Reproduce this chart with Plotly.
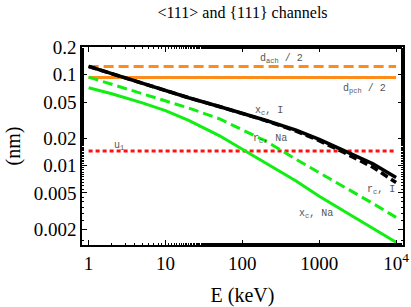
import plotly.graph_objects as go
import numpy as np

# ---- data ----
energy_keV = [1, 2, 5, 10, 20, 50, 100, 200, 500, 1000, 2000, 5000, 10000]
xc_I  = [0.1235, 0.1025, 0.080, 0.0659, 0.0558, 0.0447, 0.0377, 0.0315, 0.0246, 0.0194, 0.0149, 0.01045, 0.0074]
rc_I  = [0.1235, 0.1025, 0.080, 0.0659, 0.0558, 0.0447, 0.0377, 0.0313, 0.0240, 0.0188, 0.0142, 0.0096, 0.0065]
rc_Na = [0.094, 0.0788, 0.0622, 0.052, 0.0430, 0.0328, 0.0250, 0.0187, 0.0117, 0.0084, 0.00605, 0.00383, 0.00269]
xc_Na = [0.0719, 0.0618, 0.049, 0.0403, 0.0315, 0.0214, 0.0151, 0.0107, 0.00676, 0.0046, 0.00322, 0.00203, 0.00143]

const_E = [1, 10000]
d_ach_half = [0.1235, 0.1235]
d_pch_half = [0.0933, 0.0933]
u1 = [0.0145, 0.0145]

x_tickvals = [1, 10, 100, 1000, 10000]
x_ticktext = ["1", "10", "100", "1000", "10<sup>4</sup>"]
y_tickvals = [0.002, 0.005, 0.01, 0.02, 0.05, 0.1, 0.2]
y_ticktext = ["0.002", "0.005", "0.01", "0.02", "0.05", "0.1", "0.2"]

# labels: (text, logE, logy)
labels = [
    ("d<sub>ach</sub> / 2", 2.503, -0.831),
    ("d<sub>pch</sub> / 2", 3.592, -1.162),
    ("x<sub>c</sub>, I", 2.347, -1.394),
    ("r<sub>c</sub>, Na", 2.36, -1.702),
    ("u<sub>1</sub>", 0.40, -1.78),
    ("r<sub>c</sub>, I", 3.81, -2.265),
    ("x<sub>c</sub>, Na", 2.96, -2.529),
]

ORANGE = "#ff8c1a"
GREEN = "#11ee11"
RED = "#ff1010"
SERIF = "Liberation Serif, Times New Roman, serif"

fig = go.Figure()
fig.add_trace(go.Scatter(x=const_E, y=d_ach_half, mode="lines",
                         line=dict(color=ORANGE, width=3, dash="10px,5px")))
fig.add_trace(go.Scatter(x=const_E, y=d_pch_half, mode="lines",
                         line=dict(color=ORANGE, width=3)))
fig.add_trace(go.Scatter(x=const_E, y=u1, mode="lines",
                         line=dict(color=RED, width=3, dash="4px,3px")))
fig.add_trace(go.Scatter(x=energy_keV, y=rc_Na, mode="lines",
                         line=dict(color=GREEN, width=3, dash="10px,5px")))
fig.add_trace(go.Scatter(x=energy_keV, y=xc_Na, mode="lines",
                         line=dict(color=GREEN, width=3)))
fig.add_trace(go.Scatter(x=energy_keV, y=rc_I, mode="lines",
                         line=dict(color="black", width=3.5, dash="8px,4px")))
fig.add_trace(go.Scatter(x=energy_keV, y=xc_I, mode="lines",
                         line=dict(color="black", width=3.5)))

for txt, lx, ly in labels:
    fig.add_annotation(x=lx, y=ly, xref="x", yref="y", text=txt, showarrow=False,
                       font=dict(family="Liberation Mono, Courier New, monospace",
                                 size=10, color="#555555"))

axis_common = dict(type="log", showgrid=False, zeroline=False, showline=True,
                   linecolor="black", linewidth=1.5, mirror="ticks",
                   ticks="inside", ticklen=5, tickwidth=1, tickcolor="black",
                   automargin=False,
                   tickfont=dict(family=SERIF, size=19, color="black"),
                   minor=dict(ticks="inside", ticklen=2, tickcolor="black", showgrid=False))

fig.update_xaxes(**axis_common, range=[-0.086, 4.09],
                 tickvals=x_tickvals, ticktext=x_ticktext,
                 title=dict(text="E (keV)", standoff=16,
                            font=dict(family=SERIF, size=20, color="black")))
fig.update_yaxes(**axis_common, range=[-2.874, -0.695],
                 tickvals=y_tickvals, ticktext=y_ticktext,
                 title=dict(text="(nm)", standoff=8,
                            font=dict(family=SERIF, size=20, color="black")))

fig.update_layout(
    width=411, height=307,
    margin=dict(l=82, r=8, t=47, b=62),
    paper_bgcolor="white", plot_bgcolor="white",
    showlegend=False,
    title=dict(text="&lt;111&gt; and {111} channels", xref="paper", x=0.5,
               xanchor="center", y=1 - 12 / 307, yanchor="middle",
               font=dict(family=SERIF, size=16, color="black")),
)

fig.write_html("out.html", config={"displayModeBar": False},
               post_script="document.body.style.margin='0';document.body.style.overflow='hidden';")
